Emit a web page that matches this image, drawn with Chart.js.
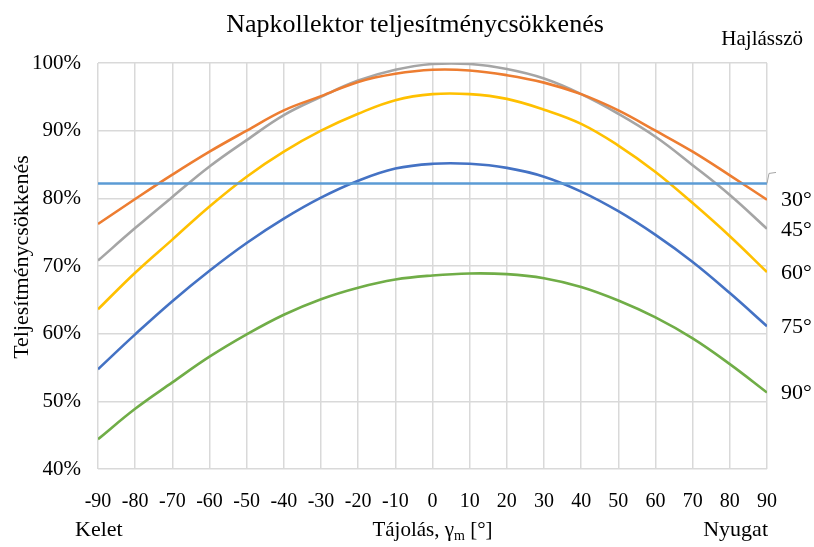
<!DOCTYPE html>
<html>
<head>
<meta charset="utf-8">
<script src="https://cdn.jsdelivr.net/npm/chart.js@4"></script>
<style>
  body { margin: 0; background: #fff; }
  #wrap { width: 814px; height: 547px; position: relative; }
</style>
</head>
<body>
<div id="wrap"><canvas id="chart"></canvas></div>
<script>
// Orientation angles (x) and efficiency (%) per tilt angle
const angles = [-90, -80, -70, -60, -50, -40, -30, -20, -10, 0, 10, 20, 30, 40, 50, 60, 70, 80, 90];
const tiltLabels = ["0°", "30°", "45°", "60°", "75°", "90°"];
const tilt0 = [82.2, 82.2, 82.2, 82.2, 82.2, 82.2, 82.2, 82.2, 82.2, 82.2, 82.2, 82.2, 82.2, 82.2, 82.2, 82.2, 82.2, 82.2, 82.2];
const tilt30 = [76.2, 79.9, 83.5, 86.9, 90.0, 93.0, 95.1, 97.2, 98.4, 99.0, 98.9, 98.2, 97.1, 95.4, 93.0, 90.0, 86.9, 83.4, 79.8];
const tilt45 = [70.8, 75.6, 80.2, 84.7, 88.6, 92.3, 95.0, 97.4, 99.0, 99.85, 99.85, 99.1, 97.7, 95.4, 92.5, 89.1, 84.9, 80.5, 75.5];
const tilt60 = [63.6, 69.0, 73.9, 78.8, 83.2, 86.9, 90.0, 92.5, 94.5, 95.4, 95.4, 94.7, 93.1, 91.0, 87.8, 83.9, 79.3, 74.4, 69.1];
const tilt75 = [54.75, 59.9, 64.8, 69.3, 73.4, 77.0, 80.1, 82.6, 84.4, 85.1, 85.1, 84.5, 83.2, 81.0, 78.1, 74.6, 70.6, 66.0, 61.1];
const tilt90 = [44.4, 48.9, 52.8, 56.6, 59.9, 62.8, 65.1, 66.8, 68.0, 68.6, 68.9, 68.8, 68.2, 66.9, 64.9, 62.4, 59.3, 55.5, 51.3];
const yTicks = [40, 50, 60, 70, 80, 90, 100];

const series = [tilt0, tilt30, tilt45, tilt60, tilt75, tilt90];
const colors = ["#5B9BD5", "#ED7D31", "#A5A5A5", "#FFC000", "#4472C4", "#70AD47"];

const serif = "'Liberation Serif', 'Times New Roman', serif";

const datasets = series.map((vals, i) => ({
  label: tiltLabels[i],
  data: vals.map((v, j) => ({ x: angles[j], y: v })),
  borderColor: colors[i],
  borderWidth: 2.6,
  pointRadius: 0,
  fill: false,
  tension: 0.4
}));

// Draws title, axis titles, side labels
const extraText = {
  id: "extraText",
  afterDraw(chart) {
    const c = chart.ctx;
    const area = chart.chartArea;
    const ys = chart.scales.y;
    const midX = (area.left + area.right) / 2;
    c.save();
    c.fillStyle = "#000";
    c.textBaseline = "alphabetic";

    c.font = "26px " + serif;
    c.textAlign = "center";
    c.fillText("Napkollektor teljesítménycsökkenés", 415, 32);

    c.font = "21px " + serif;
    c.textAlign = "right";
    c.fillText("Hajlásszö", 803, 45);

    // tilt labels next to line ends
    c.font = "22px " + serif;
    c.textAlign = "left";
    c.textBaseline = "middle";
    for (let i = 1; i < series.length; i++) {
      const v = series[i][series[i].length - 1];
      c.fillText(tiltLabels[i], 781, ys.getPixelForValue(v) + 1);
    }

    // leader line for the 0° series
    c.strokeStyle = "#A5A5A5";
    c.lineWidth = 1;
    c.beginPath();
    const y0 = ys.getPixelForValue(tilt0[0]);
    c.moveTo(area.right, y0);
    c.lineTo(area.right + 2, y0 - 10);
    c.lineTo(area.right + 9, y0 - 11);
    c.stroke();

    // x axis title with subscript
    c.textBaseline = "alphabetic";
    c.textAlign = "left";
    const part1 = "Tájolás, γ";
    const part3 = " [°]";
    c.font = "14px " + serif;
    const wSub = c.measureText("m").width;
    c.font = "21px " + serif;
    const w1 = c.measureText(part1).width;
    const w3 = c.measureText(part3).width;
    let x = midX - (w1 + wSub + w3) / 2;
    const ty = 536;
    c.fillText(part1, x, ty);
    x += w1;
    c.font = "14px " + serif;
    c.fillText("m", x, ty + 4);
    x += wSub;
    c.font = "21px " + serif;
    c.fillText(part3, x, ty);

    c.font = "22px " + serif;
    c.textAlign = "left";
    c.fillText("Kelet", 75, 536);
    c.textAlign = "right";
    c.fillText("Nyugat", 768, 536);

    // y axis title
    c.font = "22px " + serif;
    c.translate(22, 257);
    c.rotate(-Math.PI / 2);
    c.textAlign = "center";
    c.textBaseline = "middle";
    c.fillText("Teljesítménycsökkenés", 0, 0);
    c.restore();
  }
};

new Chart(document.getElementById("chart"), {
  type: "line",
  data: { datasets: datasets },
  options: {
    responsive: true,
    maintainAspectRatio: false,
    animation: false,
    layout: { padding: { top: 63, right: 47, left: 0, bottom: 0 } },
    plugins: { legend: { display: false }, tooltip: { enabled: false } },
    scales: {
      x: {
        type: "linear",
        min: -90,
        max: 90,
        afterFit(scale) { scale.height = 78; },
        afterBuildTicks(scale) { scale.ticks = angles.map(v => ({ value: v })); },
        grid: { color: "#D9D9D9", lineWidth: 1.5, drawTicks: false },
        border: { display: false },
        ticks: { color: "#000", padding: 21, maxRotation: 0, autoSkip: false, font: { family: serif, size: 20 } }
      },
      y: {
        min: 40,
        max: 100,
        afterFit(scale) { scale.width = 98; },
        afterBuildTicks(scale) { scale.ticks = yTicks.map(v => ({ value: v })); },
        grid: { color: "#D9D9D9", lineWidth: 1.5, drawTicks: false },
        border: { display: false },
        ticks: { color: "#000", padding: 17, font: { family: serif, size: 21 }, callback: v => v + "%" }
      }
    }
  },
  plugins: [extraText]
});
</script>
</body>
</html>
